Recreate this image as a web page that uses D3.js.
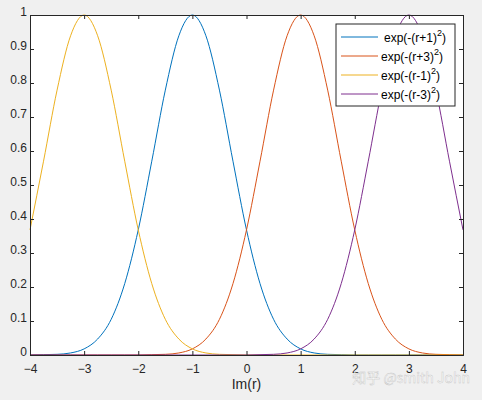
<!DOCTYPE html>
<html><head><meta charset="utf-8">
<script src="https://cdn.jsdelivr.net/npm/d3@7"></script>
<style>
body{margin:0;background:#f0f0f0;}
text{font-family:Arial,"Liberation Sans",sans-serif;}
</style></head>
<body><div id="chart"></div>
<script>
// sample grid -4..4 step 0.25
const rValues = d3.range(33).map(i => -4 + i * 0.25);
const blueVals   = [0,.001,.002,.006,.018,.047,.105,.210,.368,.570,.779,.939,1,.939,.779,.570,.368,.210,.105,.047,.018,.006,.002,.001,0,0,0,0,0,0,0,0,0];
const orangeVals = [0,0,0,0,0,0,0,0,0,.001,.002,.006,.018,.047,.105,.210,.368,.570,.779,.939,1,.939,.779,.570,.368,.210,.105,.047,.018,.006,.002,.001,0];
const yellowVals = [.368,.570,.779,.939,1,.939,.779,.570,.368,.210,.105,.047,.018,.006,.002,.001,0,0,0,0,0,0,0,0,0,0,0,0,0,0,0,0,0];
const purpleVals = [0,0,0,0,0,0,0,0,0,0,0,0,0,0,0,0,0,.001,.002,.006,.018,.047,.105,.210,.368,.570,.779,.939,1,.939,.779,.570,.368];
const series = [
  {label:"(r+1)", color:"#0072BD", vals:blueVals},
  {label:"(r+3)", color:"#D95319", vals:orangeVals},
  {label:"(r-1)", color:"#EDB120", vals:yellowVals},
  {label:"(r-3)", color:"#7E2F8E", vals:purpleVals}
];
const xTicks = [-4,-3,-2,-1,0,1,2,3,4];
const yTicks = d3.range(0, 1.01, 0.1);

const W = 482, H = 400, L = 30, R = 463, T = 15, B = 355;
const svg = d3.select('#chart').append('svg').attr('width', W).attr('height', H);
svg.append('rect').attr('width', W).attr('height', H).attr('fill', '#f0f0f0');
svg.append('rect').attr('x', L).attr('y', T).attr('width', R - L).attr('height', B - T).attr('fill', '#fff');

const x = d3.scaleLinear().domain([-4, 4]).range([L, R]);
const y = d3.scaleLinear().domain([0, 1]).range([B, T]);

const line = d3.line().x((d, i) => x(rValues[i])).y(d => y(d)).curve(d3.curveMonotoneX);
series.forEach(s => {
  svg.append('path').datum(s.vals).attr('d', line)
    .attr('fill', 'none').attr('stroke', s.color).attr('stroke-width', 1);
});

const fmt = d => d3.format('~g')(+d.toFixed(1));
svg.append('g').attr('transform', `translate(0,${B})`)
  .call(d3.axisBottom(x).tickValues(xTicks).tickSize(-4).tickFormat(d3.format('d')));
svg.append('g').attr('transform', `translate(0,${T})`)
  .call(d3.axisTop(x).tickValues(xTicks).tickSize(-4).tickFormat(''));
svg.append('g').attr('transform', `translate(${L},0)`)
  .call(d3.axisLeft(y).tickValues(yTicks).tickSize(-4).tickFormat(fmt));
svg.append('g').attr('transform', `translate(${R},0)`)
  .call(d3.axisRight(y).tickValues(yTicks).tickSize(-4).tickFormat(''));
svg.selectAll('.domain').attr('stroke', '#262626');
svg.selectAll('.tick line').attr('stroke', '#262626');
svg.selectAll('.tick text').attr('fill', '#262626').style('font-size', '12px').style('font-family', 'Arial,"Liberation Sans",sans-serif');
svg.selectAll('.tick text').each(function(){ d3.select(this).attr('dy', null); });
// nudge bottom labels
svg.selectAll('g').filter(function(){ return this.getAttribute('transform') === `translate(0,${B})`; })
  .selectAll('.tick text').attr('y', 9).attr('dy', '0.71em');

svg.append('text').attr('x', (L + R) / 2).attr('y', 389).attr('text-anchor', 'middle')
  .attr('fill', '#262626').style('font-size', '14px').text('Im(r)');

// legend
const lg = svg.append('g').attr('transform', 'translate(336,24)');
lg.append('rect').attr('width', 119).attr('height', 82).attr('fill', '#fff').attr('stroke', '#262626');
series.forEach((s, i) => {
  const yy = 13 + i * 19;
  lg.append('line').attr('x1', 5).attr('x2', 42).attr('y1', yy).attr('y2', yy).attr('stroke', s.color);
  const t = lg.append('text').attr('x', i === 0 ? 48 : 45).attr('y', yy + 5).attr('fill', '#000').style('font-size', '12px');
  t.append('tspan').text('exp(-' + s.label);
  t.append('tspan').attr('dy', -6).style('font-size', '9px').text('2');
  t.append('tspan').attr('dy', 6).text(')');
});

svg.append('text').attr('x', 470).attr('y', 383).attr('text-anchor', 'end')
  .attr('fill', '#fff').attr('opacity', 0.85).attr('stroke', '#bbb').attr('stroke-width', 0.4)
  .style('font-size', '14px').style('font-family', '"Noto Sans CJK SC",sans-serif').text('知乎 @smith John');
</script></body></html>
